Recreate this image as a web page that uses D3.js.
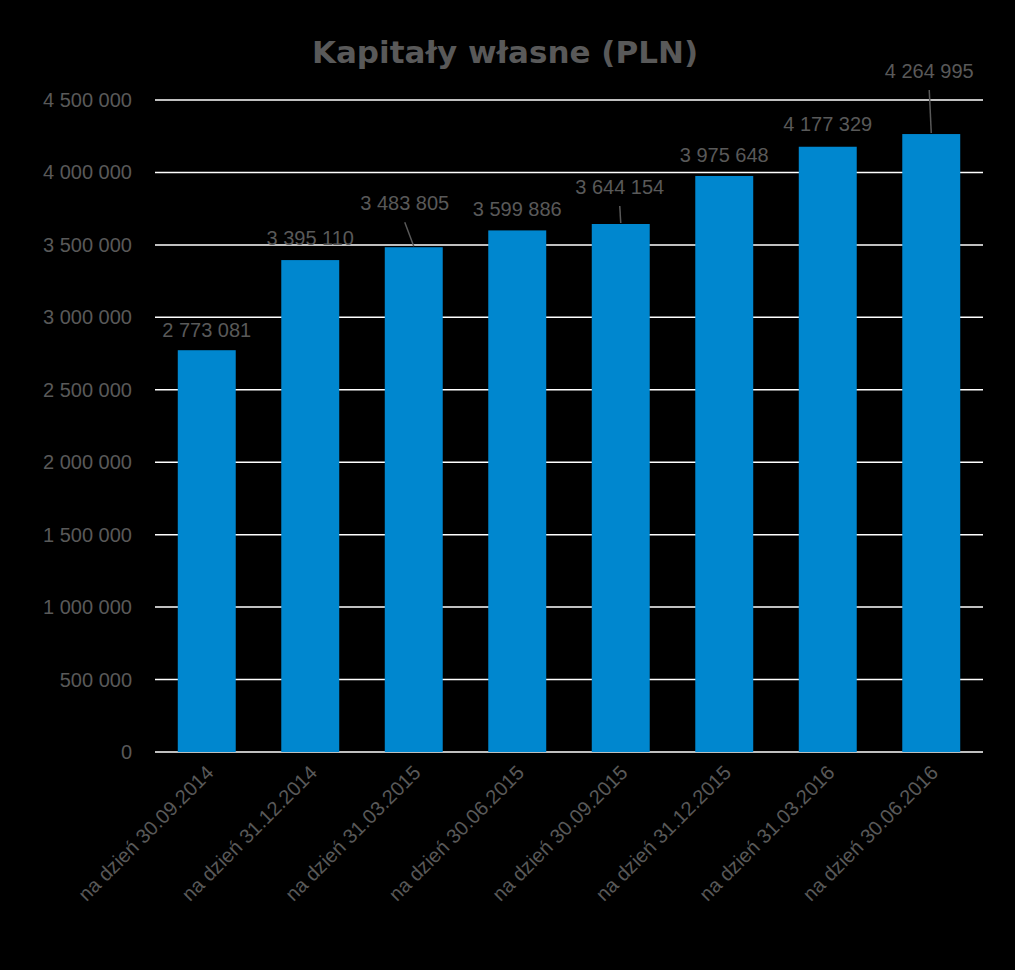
<!DOCTYPE html>
<html><head><meta charset="utf-8">
<script src="https://cdn.jsdelivr.net/npm/d3@7"></script>
<style>body{margin:0;background:#000}svg{display:block}</style>
</head><body><svg></svg>
<script>
const categories = ["na dzień 30.09.2014","na dzień 31.12.2014","na dzień 31.03.2015","na dzień 30.06.2015","na dzień 30.09.2015","na dzień 31.12.2015","na dzień 31.03.2016","na dzień 30.06.2016"];
const values = [2773081, 3395110, 3483805, 3599886, 3644154, 3975648, 4177329, 4264995];
const yTicks = [0,500000,1000000,1500000,2000000,2500000,3000000,3500000,4000000,4500000];

const svg = d3.select("svg").attr("width", 1015).attr("height", 970);
const margin = { top: 100, right: 32, bottom: 218, left: 155 };
const width = 1015 - margin.left - margin.right;
const height = 970 - margin.top - margin.bottom;
const g = svg.append("g").attr("transform", `translate(${margin.left},${margin.top})`);
const grey = "#595959";
const fmt = v => d3.format(",")(v).replace(/,/g, " ");

const x = d3.scaleBand().domain(categories).range([0, width]).paddingInner(0.44).paddingOuter(0.22);
const y = d3.scaleLinear().domain([0, 4500000]).range([height, 0]);

g.selectAll(".grid").data(yTicks).enter().append("line")
  .attr("x1", 0).attr("x2", width)
  .attr("y1", d => y(d)).attr("y2", d => y(d))
  .attr("stroke", "#fff").attr("stroke-width", 1.5);

g.selectAll(".ylab").data(yTicks).enter().append("text")
  .attr("x", -23).attr("y", d => y(d)).attr("dy", "0.35em")
  .attr("text-anchor", "end").attr("fill", grey)
  .style("font", "20px 'Liberation Sans', Arial").text(fmt);

g.selectAll(".bar").data(values).enter().append("rect")
  .attr("x", (d, i) => x(categories[i])).attr("width", x.bandwidth())
  .attr("y", d => y(d)).attr("height", d => height - y(d))
  .attr("fill", "#0087cf");

// label offsets (dx, dy from bar top) and leader lines where label was moved
const labelOff = [[0,-13],[0,-15],[-9,-37],[0,-14],[-1,-30],[0,-14],[0,-16],[-2,-56]];
const leaders = { 2: true, 4: true, 7: true };
values.forEach((v, i) => {
  const cx = x(categories[i]) + x.bandwidth() / 2;
  const ty = y(v);
  const [dx, dy] = labelOff[i];
  g.append("text").attr("x", cx + dx).attr("y", ty + dy)
    .attr("text-anchor", "middle").attr("fill", grey)
    .style("font", "20px 'Liberation Sans', Arial").text(fmt(v));
  if (leaders[i]) {
    g.append("line").attr("x1", cx + dx).attr("y1", ty + dy + 12)
      .attr("x2", cx).attr("y2", ty - 1)
      .attr("stroke", grey).attr("stroke-width", 1.5);
  }
});

g.selectAll(".xlab").data(categories).enter().append("text")
  .attr("transform", d => `translate(${x(d) + x.bandwidth() / 2 + 8},${height + 22}) rotate(-45)`)
  .attr("text-anchor", "end").attr("fill", grey)
  .style("font", "20px 'Liberation Sans', Arial").text(d => d);

svg.append("text").attr("x", 505).attr("y", 63).attr("text-anchor", "middle")
  .attr("fill", grey).style("font", "bold 31px 'DejaVu Sans', sans-serif")
  .text("Kapitały własne (PLN)");
</script></body></html>
